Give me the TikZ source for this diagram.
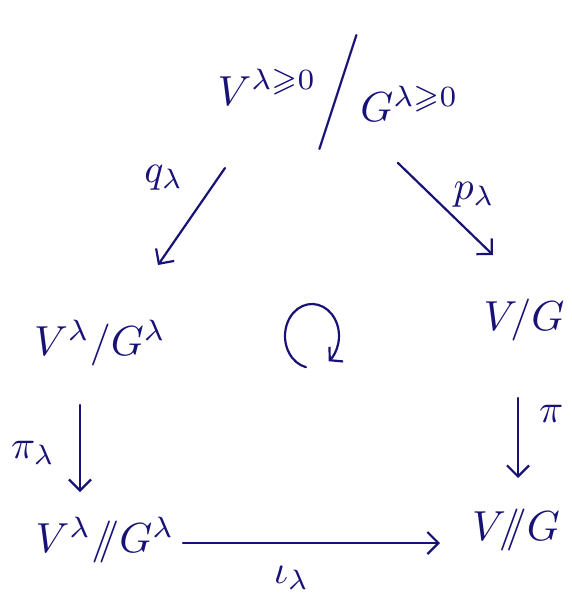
\documentclass[tikz,border=0pt]{standalone}
\usepackage{graphicx}
\usepackage{amsmath,amssymb}
\usetikzlibrary{arrows.meta,calc}
\definecolor{hand}{RGB}{24,18,118}
\newcommand{\hwbig}[1]{\scalebox{4.2}{$#1$}}
\newcommand{\hwlab}[1]{\scalebox{4.0}{$#1$}}
\begin{document}
\begin{tikzpicture}[x=1pt,y=-1pt,
  every node/.style={text=hand,inner sep=0pt},
  arr/.style={draw=hand,line width=2.2pt,line cap=round,-{Straight Barb[length=11pt,width=22pt,line width=2.2pt]}}]
\useasboundingbox (0,0) rectangle (571,610);
\node (top) at (338,93) {\hwbig{V^{\lambda\geqslant 0}\scalebox{1}[1.15]{$\bigg/$}\raisebox{-4pt}{$G^{\lambda\geqslant 0}$}}};
\node (left) at (100,343) {\hwbig{V^{\lambda}/G^{\lambda}}};
\node (right) at (524,320) {\hwbig{V\!/G}};
\node (bl) at (105,540) {\hwbig{V^{\lambda}/\!\!/G^{\lambda}}};
\node (br) at (516,530) {\hwbig{V\!/\!\!/G}};
\coordinate (cyc) at (312,336);
% arrows
\draw[arr] ($(top)+(-113,75)$) -- ($(left)+(58,-78)$) node[pos=0.1,left=34pt] (ql) {\hwlab{q_\lambda}};
\draw[arr] ($(top)+(60,70)$) -- ($(right)+(-31,-65)$) node[pos=0.3,right=26pt,yshift=-4pt] (pl) {\hwlab{p_\lambda}};
\draw[arr] ($(left)+(-20,62)$) -- ($(bl)+(-25,-48)$) node[midway,left=24pt,yshift=-4pt] (pil) {\hwlab{\pi_\lambda}};
\draw[arr] ($(right)+(-6,78)$) -- ($(br)+(2,-52)$) node[pos=0.2,right=20pt] (pi) {\hwlab{\pi}};
\draw[arr] ($(bl)+(78,3)$) -- ($(br)+(-76,13)$) node[midway,below=22pt,xshift=-20pt] (il) {\hwlab{\iota_\lambda}};
\draw[arr,-{Straight Barb[length=9pt,width=20pt,line width=2.2pt]}] (cyc) ++(103:27 and 32) arc[start angle=103,end angle=412,x radius=27,y radius=32];
\end{tikzpicture}
\end{document}
